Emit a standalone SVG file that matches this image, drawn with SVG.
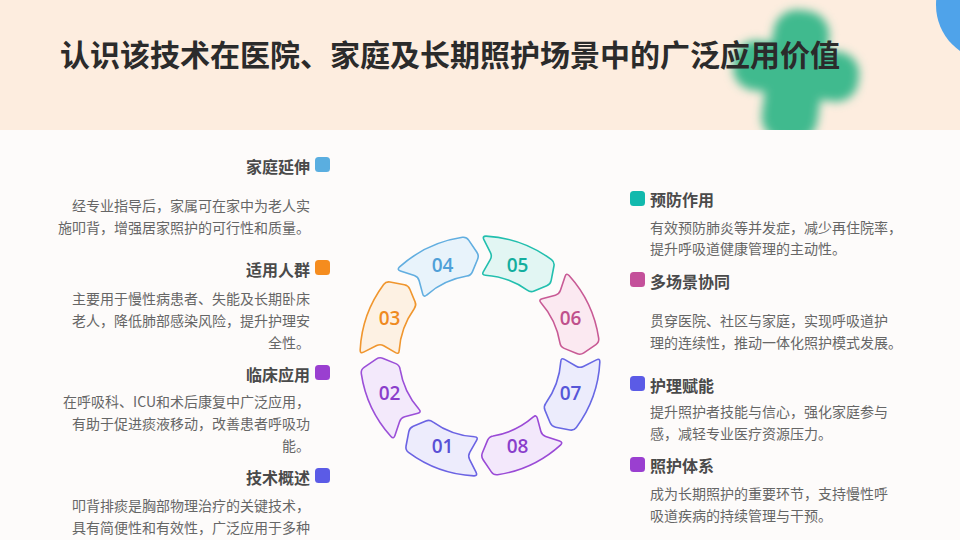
<svg xmlns="http://www.w3.org/2000/svg" width="960" height="540" viewBox="0 0 960 540">
<style>
.ttl{font-family:"Noto Sans CJK SC","Noto Sans",sans-serif;font-size:30px;font-weight:700;fill:#2b2b2b}
.h{font-family:"Noto Sans CJK SC","Noto Sans",sans-serif;font-size:16px;font-weight:700;fill:#4a4a4a}
.d{font-family:"Noto Sans CJK SC","Noto Sans",sans-serif;font-size:14px;fill:#666}
.r{text-anchor:end}
.num{font-family:"Open Sans","Noto Sans",sans-serif;font-size:19px;font-weight:600;text-anchor:middle}
.seg{stroke-width:1.6;stroke-linejoin:round}
</style>
<defs>
<filter id="blur" x="-30%" y="-30%" width="160%" height="160%"><feGaussianBlur stdDeviation="5"/></filter>
<clipPath id="hdr"><rect x="0" y="0" width="960" height="130"/></clipPath>
<path id="segShape" d="M109.03,-40.96 Q111.65,-43.98 113.05,-40.23 A120,120 0 0 1 116.39,29.21 Q115.35,33.08 111.43,33.89 L97.10,36.84 Q93.18,37.65 90.35,34.82 L80.69,25.16 Q77.86,22.33 78.87,18.46 A81,81 0 0 0 76.74,-25.93 Q75.36,-29.69 79.33,-29.17 L92.87,-27.38 Q96.84,-26.86 99.46,-29.88 Z"/>
</defs>
<rect x="0" y="0" width="960" height="540" fill="#fdfbfa"/>
<g id="header">
<rect x="0" y="0" width="960" height="130" fill="#fdeddf"/>
<g clip-path="url(#hdr)">
<g transform="rotate(8 796 72)" fill="#3fba8e" filter="url(#blur)">
<rect x="768" y="10" width="56" height="132" rx="24"/>
<rect x="733" y="46" width="126" height="50" rx="22"/>
</g>
<circle cx="992" cy="5" r="56" fill="#4fa3ea"/>
</g>
<text class="ttl" x="60" y="66">认识该技术在医院、家庭及长期照护场景中的广泛应用价值</text>
</g>
<g id="ring">
<g id="seg01"><use href="#segShape" class="seg" transform="translate(480,356) rotate(112.5)" fill="#edecfc" stroke="#6b63e3"/><text class="num" x="442.5" y="453" fill="#5a50d6">01</text></g>
<g id="seg02"><use href="#segShape" class="seg" transform="translate(480,356) rotate(157.5)" fill="#f3e9fb" stroke="#9b4fd8"/><text class="num" x="389.5" y="400" fill="#8a3ecb">02</text></g>
<g id="seg03"><use href="#segShape" class="seg" transform="translate(480,356) rotate(202.5)" fill="#fdf1e3" stroke="#f0962e"/><text class="num" x="389.5" y="325" fill="#ef8a1f">03</text></g>
<g id="seg04"><use href="#segShape" class="seg" transform="translate(480,356) rotate(247.5)" fill="#e8f3fb" stroke="#62aee0"/><text class="num" x="442.5" y="272" fill="#4fa0d8">04</text></g>
<g id="seg05"><use href="#segShape" class="seg" transform="translate(480,356) rotate(292.5)" fill="#e2f6f3" stroke="#22bfae"/><text class="num" x="517.5" y="272" fill="#13ae9e">05</text></g>
<g id="seg06"><use href="#segShape" class="seg" transform="translate(480,356) rotate(337.5)" fill="#fbe9f1" stroke="#c85a95"/><text class="num" x="570.5" y="325" fill="#c0508c">06</text></g>
<g id="seg07"><use href="#segShape" class="seg" transform="translate(480,356) rotate(22.5)" fill="#ececfc" stroke="#6868e4"/><text class="num" x="570.5" y="400" fill="#5656d8">07</text></g>
<g id="seg08"><use href="#segShape" class="seg" transform="translate(480,356) rotate(67.5)" fill="#f3e8fb" stroke="#9a4ad6"/><text class="num" x="517.5" y="453" fill="#8a3ecb">08</text></g>
</g>
<g id="connectors"/>
<g id="item-home">
<rect x="315" y="157" width="15" height="15" rx="3.5" fill="#5aaee0"/>
<text class="h r" x="310" y="173">家庭延伸</text>
<text class="d r" x="310" y="211">经专业指导后，家属可在家中为老人实</text>
<text class="d r" x="310" y="233">施叩背，增强居家照护的可行性和质量。</text>
</g>
<g id="item-people">
<rect x="315" y="260" width="15" height="15" rx="3.5" fill="#f58c1e"/>
<text class="h r" x="310" y="276">适用人群</text>
<text class="d r" x="310" y="304">主要用于慢性病患者、失能及长期卧床</text>
<text class="d r" x="310" y="326">老人，降低肺部感染风险，提升护理安</text>
<text class="d r" x="310" y="348">全性。</text>
</g>
<g id="item-clinic">
<rect x="315" y="365" width="15" height="15" rx="3.5" fill="#9a3fd0"/>
<text class="h r" x="310" y="381">临床应用</text>
<text class="d r" x="310" y="407">在呼吸科、ICU和术后康复中广泛应用，</text>
<text class="d r" x="310" y="429">有助于促进痰液移动，改善患者呼吸功</text>
<text class="d r" x="310" y="451">能。</text>
</g>
<g id="item-overview">
<rect x="315" y="468" width="15" height="15" rx="3.5" fill="#5b5be6"/>
<text class="h r" x="310" y="484">技术概述</text>
<text class="d r" x="310" y="511">叩背排痰是胸部物理治疗的关键技术，</text>
<text class="d r" x="310" y="533">具有简便性和有效性，广泛应用于多种</text>
</g>
<g id="item-prevent">
<rect x="630" y="191" width="15" height="15" rx="3.5" fill="#12b9ad"/>
<text class="h" x="650" y="206">预防作用</text>
<text class="d" x="650" y="233">有效预防肺炎等并发症，减少再住院率，</text>
<text class="d" x="650" y="254">提升呼吸道健康管理的主动性。</text>
</g>
<g id="item-multi">
<rect x="630" y="272" width="15" height="15" rx="3.5" fill="#c4509a"/>
<text class="h" x="650" y="288">多场景协同</text>
<text class="d" x="650" y="326">贯穿医院、社区与家庭，实现呼吸道护</text>
<text class="d" x="650" y="348">理的连续性，推动一体化照护模式发展。</text>
</g>
<g id="item-empower">
<rect x="630" y="376" width="15" height="15" rx="3.5" fill="#5b5be6"/>
<text class="h" x="650" y="392">护理赋能</text>
<text class="d" x="650" y="417">提升照护者技能与信心，强化家庭参与</text>
<text class="d" x="650" y="439">感，减轻专业医疗资源压力。</text>
</g>
<g id="item-system">
<rect x="630" y="457" width="15" height="15" rx="3.5" fill="#9a3fd0"/>
<text class="h" x="650" y="472">照护体系</text>
<text class="d" x="650" y="499">成为长期照护的重要环节，支持慢性呼</text>
<text class="d" x="650" y="521">吸道疾病的持续管理与干预。</text>
</g>
</svg>
